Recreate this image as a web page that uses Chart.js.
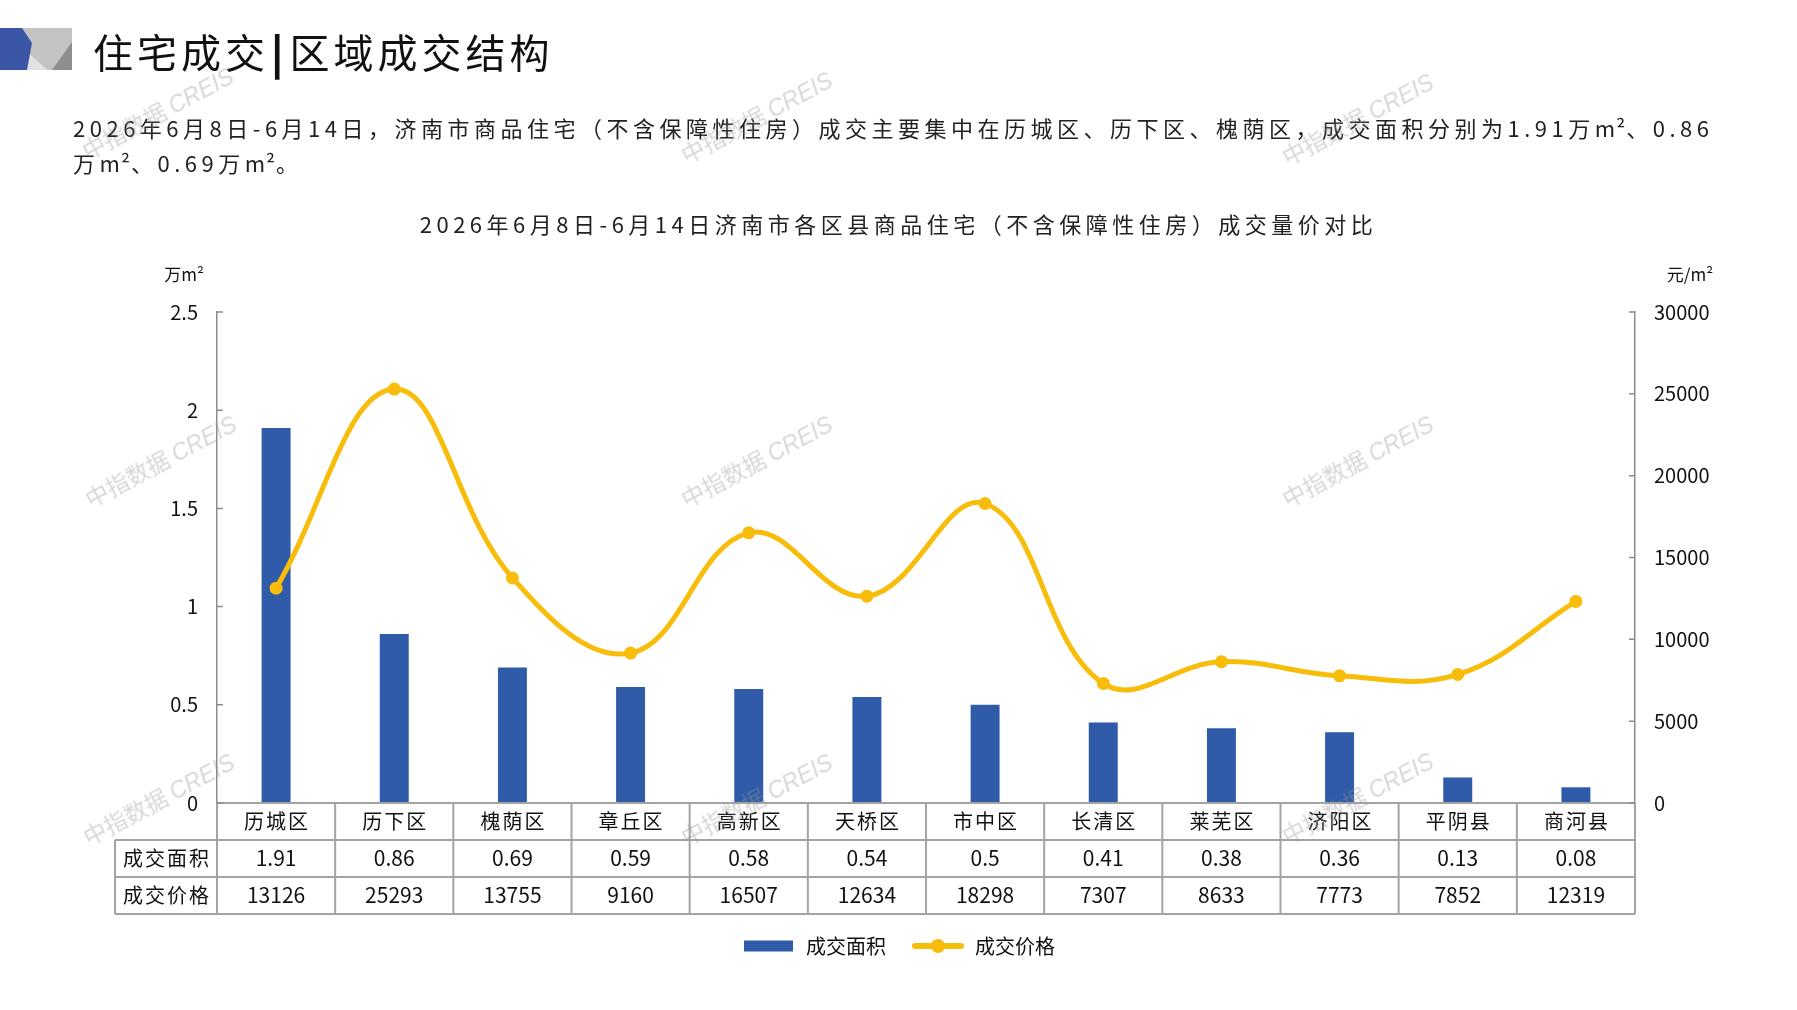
<!DOCTYPE html>
<html lang="zh">
<head>
<meta charset="utf-8">
<title>住宅成交|区域成交结构</title>
<script src="https://cdn.jsdelivr.net/npm/chart.js@4.4.1/dist/chart.umd.min.js"></script>
<style>
html, body { margin: 0; padding: 0; background: #fff; width: 1797px; height: 1010px; overflow: hidden; font-family: "Noto Sans CJK SC", sans-serif; }
#wrap { position: relative; width: 1797px; height: 1010px; }
#chart { position: absolute; left: 0; top: 0; }
.head-icon { position: absolute; left: 0; top: 28px; }
.head-title { position: absolute; left: 93px; top: 23px; font-size: 40px; line-height: 56px; letter-spacing: 4px; color: #111; white-space: nowrap; }
.head-title b { font-weight: 900; margin: 0 2px; }
.intro { position: absolute; left: 73px; top: 110px; font-size: 22px; line-height: 35px; letter-spacing: 4.5px; color: #222; white-space: nowrap; }
.intro span { letter-spacing: 1px; }
.chart-title { position: absolute; left: 0; top: 208px; width: 1797px; text-align: center; font-size: 22px; line-height: 30px; letter-spacing: 4.5px; color: #222; white-space: nowrap; }
.wm { position: absolute; transform: translate(-50%, -50%) rotate(-28deg); font-size: 23px; color: rgba(150, 150, 150, 0.38); white-space: nowrap; pointer-events: none; }
.wm i { font-family: "Liberation Sans", sans-serif; }
</style>
</head>
<body>
<div id="wrap">
  <canvas id="chart" width="1797" height="1010"></canvas>
  <svg class="head-icon" width="74" height="44" viewBox="0 0 74 44">
    <rect x="20" y="0" width="52" height="42" fill="#c3c3c3"/>
    <polygon points="20,18 48,42 20,42" fill="#e2e2e2"/>
    <polygon points="72,14 72,42 52,42" fill="#8e8e8e"/>
    <polygon points="0,0 22,0 32,15 27,42 0,42" fill="#3a56a4"/>
  </svg>
  <div class="head-title">住宅成交<b>|</b>区域成交结构</div>
  <div class="intro">2026年6月8日-6月14日，济南市商品住宅（不含保障性住房）成交主要集中在历城区、历下区、槐荫区，成交面积分别为1.91万<span>m²</span>、0.86<br>万<span>m²</span>、0.69万<span>m²</span>。</div>
  <div class="chart-title">2026年6月8日-6月14日济南市各区县商品住宅（不含保障性住房）成交量价对比</div>
</div>
<script>
const categories = ['历城区', '历下区', '槐荫区', '章丘区', '高新区', '天桥区', '市中区', '长清区', '莱芜区', '济阳区', '平阴县', '商河县'];
const dealArea = [1.91, 0.86, 0.69, 0.59, 0.58, 0.54, 0.5, 0.41, 0.38, 0.36, 0.13, 0.08];
const dealPrice = [13126, 25293, 13755, 9160, 16507, 12634, 18298, 7307, 8633, 7773, 7852, 12319];
const seriesNames = ['成交面积', '成交价格'];
const unitLeft = '万m²';
const unitRight = '元/m²';
const watermark = '中指数据';

const BLUE = '#2f5ba8';
const GOLD = '#f7bd0a';
const GRID = '#a3a3a3';
const CJK = '"Noto Sans CJK SC", sans-serif';
const NUM = '"Liberation Sans Narrow", "Noto Sans CJK SC", sans-serif';

// watermark spots (page positions)
const wmSpots = [[157, 112], [756, 116], [1357, 118], [160, 460], [756, 460], [1357, 460], [158, 798], [756, 798], [1357, 797]];
const wrap = document.getElementById('wrap');
wmSpots.forEach(p => {
    const d = document.createElement('div');
    d.className = 'wm';
    d.style.left = p[0] + 'px';
    d.style.top = p[1] + 'px';
    d.innerHTML = watermark + ' <i>CREIS</i>';
    wrap.appendChild(d);
});

// small images used as legend symbols
function swatch(draw) {
    const c = document.createElement('canvas');
    c.width = 54; c.height = 16;
    draw(c.getContext('2d'));
    return c;
}
const barSwatch = swatch(g => { g.fillStyle = BLUE; g.fillRect(2, 2.5, 49, 11); });
const lineSwatch = swatch(g => {
    g.strokeStyle = GOLD; g.lineWidth = 6; g.lineCap = 'round';
    g.beginPath(); g.moveTo(4, 8); g.lineTo(50, 8); g.stroke();
    g.fillStyle = GOLD; g.beginPath(); g.arc(27, 8, 7, 0, Math.PI * 2); g.fill();
});

// data table under the plot + inner ticks + unit labels
const tablePlugin = {
    id: 'dataTable',
    afterDraw(chart) {
        const { ctx, scales } = chart;
        const x = scales.x, yA = scales.yArea, yP = scales.yPrice;
        const n = categories.length;
        const cell = x.width / n;
        const top = yA.getPixelForValue(0);
        const rowH = 37;
        const tLeft = 115;
        const tRight = x.right;
        ctx.save();
        ctx.strokeStyle = GRID;
        ctx.lineWidth = 2;
        ctx.beginPath();
        ctx.moveTo(x.left, top); ctx.lineTo(tRight, top);
        for (let r = 1; r <= 3; r++) {
            ctx.moveTo(tLeft, top + r * rowH); ctx.lineTo(tRight, top + r * rowH);
        }
        ctx.moveTo(tLeft, top + rowH); ctx.lineTo(tLeft, top + 3 * rowH);
        for (let i = 0; i <= n; i++) {
            const bx = i < n ? x.getPixelForValue(i) - cell / 2 : x.getPixelForValue(n - 1) + cell / 2;
            ctx.moveTo(bx, top); ctx.lineTo(bx, top + 3 * rowH);
        }
        ctx.stroke();

        // inner tick marks
        ctx.lineWidth = 1.5;
        ctx.strokeStyle = '#8c8c8c';
        ctx.beginPath();
        yA.ticks.forEach(t => { const py = yA.getPixelForValue(t.value); ctx.moveTo(yA.right, py); ctx.lineTo(yA.right + 6, py); });
        yP.ticks.forEach(t => { const py = yP.getPixelForValue(t.value); ctx.moveTo(yP.left - 6, py); ctx.lineTo(yP.left, py); });
        ctx.stroke();

        ctx.fillStyle = '#111';
        ctx.textAlign = 'center';
        ctx.textBaseline = 'middle';
        const midL = (tLeft + x.left) / 2;
        for (let i = 0; i < n; i++) {
            const cx = x.getPixelForValue(i);
            ctx.font = '20px ' + CJK;
            ctx.letterSpacing = '2px';
            ctx.fillText(categories[i], cx + 1, top + rowH / 2);
            ctx.font = '21px ' + NUM;
            ctx.letterSpacing = '0px';
            ctx.fillText(String(dealArea[i]), cx, top + rowH * 1.5);
            ctx.fillText(String(dealPrice[i]), cx, top + rowH * 2.5);
        }
        ctx.font = '20px ' + CJK;
        ctx.letterSpacing = '2px';
        ctx.fillText(seriesNames[0], midL + 1, top + rowH * 1.5);
        ctx.fillText(seriesNames[1], midL + 1, top + rowH * 2.5);

        ctx.letterSpacing = '0px';
        ctx.font = '17px ' + CJK;
        ctx.fillText(unitLeft, yA.right - 33, chart.chartArea.top - 37);
        ctx.fillText(unitRight, yP.left + 55, chart.chartArea.top - 37);
        ctx.restore();
    }
};

Chart.defaults.font.family = CJK;
Chart.defaults.color = '#111';

new Chart(document.getElementById('chart'), {
    type: 'bar',
    data: {
        labels: categories,
        datasets: [
            {
                type: 'bar',
                label: seriesNames[0],
                data: dealArea,
                yAxisID: 'yArea',
                backgroundColor: BLUE,
                barPercentage: 0.245,
                categoryPercentage: 1,
                order: 2,
            },
            {
                type: 'line',
                label: seriesNames[1],
                data: dealPrice,
                yAxisID: 'yPrice',
                borderColor: GOLD,
                backgroundColor: GOLD,
                borderWidth: 5,
                pointRadius: 6.5,
                pointBorderWidth: 0,
                tension: 0.4,
                order: 1,
            },
        ],
    },
    options: {
        responsive: false,
        animation: false,
        layout: { padding: { top: 312, left: 0, right: 0, bottom: 44 } },
        plugins: {
            title: { display: false },
            tooltip: { enabled: false },
            legend: {
                position: 'bottom',
                labels: {
                    usePointStyle: true,
                    pointStyleWidth: 54,
                    padding: 25,
                    color: '#111',
                    font: { size: 20 },
                    sort: (a, b) => a.datasetIndex - b.datasetIndex,
                    generateLabels(chart) {
                        const items = Chart.defaults.plugins.legend.labels.generateLabels(chart);
                        items.forEach(it => { it.pointStyle = it.datasetIndex === 0 ? barSwatch : lineSwatch; });
                        return items;
                    },
                },
            },
        },
        scales: {
            x: {
                ticks: { display: false },
                grid: { display: false },
                border: { display: false },
                afterFit(s) { s.height = 108; },
            },
            yArea: {
                position: 'left',
                min: 0, max: 2.5,
                ticks: { stepSize: 0.5, padding: 19, color: '#111', font: { family: NUM, size: 20 }, callback: v => String(v) },
                grid: { display: true, drawOnChartArea: false, drawTicks: false },
                border: { display: true, color: '#8c8c8c', width: 1.5 },
                afterFit(s) { s.width = 217; },
            },
            yPrice: {
                position: 'right',
                min: 0, max: 30000,
                ticks: { stepSize: 5000, padding: 19, color: '#111', font: { family: NUM, size: 20 }, callback: v => String(v) },
                grid: { display: true, drawOnChartArea: false, drawTicks: false },
                border: { display: true, color: '#8c8c8c', width: 1.5 },
                afterFit(s) { s.width = 162; },
            },
        },
    },
    plugins: [tablePlugin],
});
</script>
</body>
</html>
